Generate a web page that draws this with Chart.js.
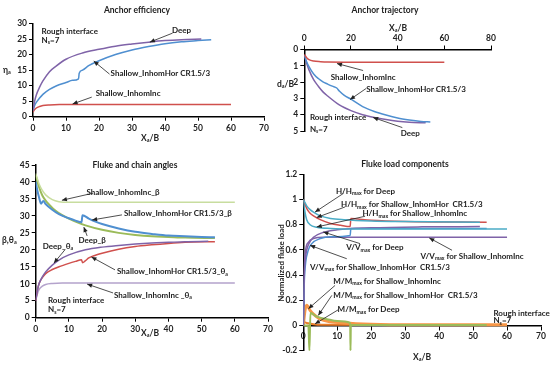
<!DOCTYPE html>
<html>
<head>
<meta charset="utf-8">
<script src="https://cdn.jsdelivr.net/npm/chart.js@4"></script>
<style>
  html, body { margin: 0; padding: 0; background: #fff; }
  #sheet { display: block; width: 550px; height: 365px; }
</style>
</head>
<body>
<canvas id="sheet" width="550" height="365"></canvas>
<script>
// ---- Anchor efficiency (x = Xa/B, y = eta_a)
const effDeep = [[0,2],[0.5,5],[1,7],[2,9.5],[3,11.5],[5,14.5],[7,16.3],[10,18.5],[15,20.5],[20,21.7],[25,22.7],[30,23.4],[35,24],[40,24.5],[45,24.8],[51,25]];
const effHor = [[0,2],[0.5,3.6],[1,4.6],[2,6],[3,7.2],[5,8.8],[7,9.9],[10,11],[12,11.7],[13.8,12.2],[14,14],[15,15],[17,16.5],[20,18],[25,20],[30,21.5],[35,22.6],[40,23.5],[45,24.1],[50,24.5],[54,24.8]];
const effInc = [[0,1.5],[0.5,2.3],[1,2.8],[2,3.3],[3,3.6],[5,3.8],[8,3.9],[15,3.9],[60,3.9]];

// ---- Anchor trajectory (x = Xa/B, y = da/B)
const trajInc = [[0,0.3],[1,0.5],[2,0.62],[4,0.71],[7,0.75],[10,0.77],[20,0.78],[60,0.78]];
const trajHor = [[0,0.35],[1,0.75],[2,1.05],[4,1.5],[6,1.78],[8,1.98],[10,2.12],[12,2.25],[13.9,2.36],[15,2.55],[17,2.8],[20,3.05],[25,3.5],[30,3.8],[35,4.02],[40,4.2],[45,4.32],[50,4.41],[54,4.45]];
const trajDeep = [[0,0.35],[1,0.85],[2,1.25],[4,1.85],[6,2.25],[8,2.6],[10,2.85],[15,3.4],[20,3.75],[25,4],[30,4.17],[35,4.3],[40,4.4],[45,4.46],[52,4.5]];

// ---- Fluke and chain angles (degrees)
const betaInc = [[0,42.5],[1,39.5],[2,37.5],[3,36.2],[5,34.8],[7,34.2],[10,34],[60,34]];
const betaHor = [[0,40],[0.5,37.5],[1,35.5],[1.6,33.6],[2.3,34.4],[3,33.5],[5,31.8],[7,30.5],[10,29.3],[12,28.6],[13.8,28.1],[14.1,30.2],[16,29.2],[18,28.3],[20,27.6],[25,26.3],[30,25.3],[35,24.7],[40,24.2],[45,24],[50,23.8],[54,23.7]];
const betaDeep = [[0,42],[1,38.5],[2,36],[3,34.5],[4,33.4],[6,31.5],[8,30.2],[10,29.2],[12,28.3],[15,27.2],[20,25.9],[25,25],[30,24.4],[35,24],[40,23.8],[45,23.6],[54,23.5]];
const thetaDeep = [[0,5],[0.5,8],[1,10],[2,12],[3,13.5],[5,15.5],[7,17],[10,18.5],[15,20],[20,20.8],[25,21.3],[30,21.7],[35,22],[40,22.2],[45,22.4],[52,22.5]];
const thetaHor = [[0,5],[0.5,8],[1,10],[2,11.8],[3,13],[5,14.2],[7,15],[10,16],[12,16.6],[13.8,17.1],[14.1,16.2],[15,16.8],[16,17.6],[18,18.4],[20,19],[25,20.2],[30,21],[35,21.5],[40,21.9],[45,22.2],[54,22.4]];
const thetaInc = [[0,5],[0.5,7],[1,8.3],[2,9.3],[3,9.8],[5,10.1],[8,10.2],[60,10.2]];

// ---- Fluke load components (normalized)
const hDeep = [[0,1],[1,0.95],[2,0.92],[3,0.9],[5,0.87],[8,0.85],[12,0.84],[20,0.83],[30,0.825],[52,0.82]];
const hHor = [[0,1],[1,0.93],[2,0.89],[3,0.87],[5,0.84],[8,0.81],[11,0.795],[13.8,0.785],[14,0.85],[16,0.845],[20,0.835],[30,0.825],[54,0.82]];
const hInc = [[0,1],[0.5,0.9],[1,0.84],[2,0.8],[4,0.78],[8,0.77],[15,0.765],[60,0.765]];
const vDeep = [[0,0],[0.3,0.4],[0.7,0.55],[1.5,0.64],[3,0.7],[6,0.74],[10,0.76],[20,0.775],[35,0.783],[52,0.785]];
const vHor = [[0,0],[0.3,0.35],[0.7,0.5],[1.5,0.6],[2.5,0.65],[5,0.69],[8,0.705],[13.8,0.715],[14,0.77],[20,0.77],[54,0.77]];
const vInc = [[0,0],[0.3,0.45],[0.7,0.6],[1.5,0.66],[3,0.69],[6,0.7],[60,0.7]];
const mInc = [[0,0],[0.5,0.12],[1,0.16],[2,0.12],[3,0.09],[5,0.05],[8,0.03],[12,0.02],[20,0.01],[30,0.005],[60,0.005]];
const mHor = [[0,0],[1.5,0],[1.8,-0.2],[2.1,0.1],[4,0.07],[7,0.05],[10,0.035],[13.8,0.02],[13.9,-0.2],[14,0.003],[54,0.003]];
const mDeep = [[0,0.03],[1,0.02],[3,0.01],[5,0.005],[52,0.003]];

const FONT = 'Lato, "Open Sans", sans-serif';
Chart.defaults.font.family = FONT;
Chart.defaults.font.size = 8.5;
Chart.defaults.font.weight = 'bold';
Chart.defaults.color = '#222';

const toXY = (pairs) => pairs.map(([x, y]) => ({x, y}));

function line(label, pairs, color, width) {
    return {
        label: label,
        data: toXY(pairs),
        borderColor: color,
        borderWidth: width || 1.5,
        pointRadius: 0,
        fill: false,
        tension: 0.4,
        cubicInterpolationMode: 'monotone'
    };
}

// text with subscripts written as X_{a} or H_{max}; a plain "_" stays an underscore
function richText(ctx, str, x, y, size, align) {
    const parts = [];
    const re = /_\{([^}]*)\}|((?:[^_]|_(?!\{))+)/g;
    let m;
    while ((m = re.exec(str)) !== null) {
        if (m[2] !== undefined) parts.push({t: m[2], sub: false});
        else parts.push({t: m[1], sub: true});
    }
    const main = 'bold ' + size + 'px ' + FONT;
    const small = 'bold ' + (size * 0.65).toFixed(1) + 'px ' + FONT;
    let w = 0;
    parts.forEach((p) => {
        ctx.font = p.sub ? small : main;
        p.w = ctx.measureText(p.t).width;
        w += p.w;
    });
    let cx = x;
    if (align === 'center') cx = x - w / 2;
    else if (align === 'right') cx = x - w;
    ctx.textBaseline = 'middle';
    ctx.textAlign = 'left';
    parts.forEach((p) => {
        ctx.font = p.sub ? small : main;
        ctx.fillText(p.t, cx, p.sub ? y + size * 0.3 : y);
        cx += p.w;
    });
}

function arrow(ctx, x1, y1, x2, y2) {
    ctx.strokeStyle = '#222';
    ctx.fillStyle = '#222';
    ctx.lineWidth = 0.8;
    ctx.beginPath();
    ctx.moveTo(x1, y1);
    ctx.lineTo(x2, y2);
    ctx.stroke();
    const a = Math.atan2(y2 - y1, x2 - x1);
    const L = 5, W = 2.2;
    ctx.beginPath();
    ctx.moveTo(x2, y2);
    ctx.lineTo(x2 - L * Math.cos(a) + W * Math.sin(a), y2 - L * Math.sin(a) - W * Math.cos(a));
    ctx.lineTo(x2 - L * Math.cos(a) - W * Math.sin(a), y2 - L * Math.sin(a) + W * Math.cos(a));
    ctx.closePath();
    ctx.fill();
}

// labels: {t, at:[x,y] (data) or px:[x,y] (panel pixels), size, align, rot}
// arrows: {from:[x,y], to:[x,y]} in data units
const decor = {
    id: 'decor',
    afterDatasetsDraw(chart, args, opts) {
        const ctx = chart.ctx;
        const xs = chart.scales.x, ys = chart.scales.y;
        ctx.save();
        (opts.arrows || []).forEach((a) => {
            arrow(ctx, xs.getPixelForValue(a.from[0]), ys.getPixelForValue(a.from[1]),
                xs.getPixelForValue(a.to[0]), ys.getPixelForValue(a.to[1]));
        });
        (opts.labels || []).forEach((l) => {
            const px = l.px ? l.px[0] : xs.getPixelForValue(l.at[0]);
            const py = l.px ? l.px[1] : ys.getPixelForValue(l.at[1]);
            ctx.save();
            ctx.fillStyle = '#222';
            if (l.rot) {
                ctx.translate(px, py);
                ctx.rotate(l.rot);
                richText(ctx, l.t, 0, 0, l.size || 8, l.align || 'left');
            } else {
                richText(ctx, l.t, px, py, l.size || 8, l.align || 'left');
            }
            ctx.restore();
        });
        ctx.restore();
    }
};

function axis(min, max, step, extra, fixedSize, horizontal) {
    const s = {
        type: 'linear',
        min: min,
        max: max,
        ticks: {stepSize: step, padding: 2, callback: (v) => String(Math.round(v * 10) / 10)},
        grid: {display: true, drawOnChartArea: false, drawTicks: true, tickLength: 4, color: '#000', lineWidth: 1},
        border: {display: true, color: '#000', width: 1.5}
    };
    if (fixedSize) {
        s.afterFit = (sc) => { if (horizontal) sc.height = fixedSize; else sc.width = fixedSize; };
    }
    return Object.assign(s, extra || {});
}

const sheet = document.getElementById('sheet').getContext('2d');
sheet.fillStyle = '#fff';
sheet.fillRect(0, 0, 550, 365);

// each panel is drawn by its own chart on a detached canvas, then copied onto the sheet
function panel(left, top, w, h, datasets, scales, padding, decorOpts) {
    const c = document.createElement('canvas');
    c.width = w;
    c.height = h;
    new Chart(c, {
        type: 'line',
        data: {datasets: datasets},
        options: {
            responsive: false,
            animation: false,
            devicePixelRatio: 1,
            layout: {padding: padding},
            scales: scales,
            plugins: {legend: {display: false}, tooltip: {enabled: false}, decor: decorOpts}
        },
        plugins: [decor]
    });
    sheet.drawImage(c, left, top);
}

const PURPLE = '#7f63a8', BLUE = '#4f8fd0', RED = '#d0504d', GREEN = '#9bbb59',
    LGREEN = '#c8dd9f', LPURPLE = '#b4a3cc', CYAN = '#4bacc6', ORANGE = '#f79646';

panel(0, 0, 275, 145, [
    line('Deep', effDeep, PURPLE),
    line('Shallow_InhomHor CR1.5/3', effHor, BLUE),
    line('Shallow_InhomInc', effInc, RED)
], {
    x: axis(0, 70, 10, {}, 28.3, true),
    y: axis(0, 30, 5, {}, 33, false)
}, {left: 0, right: 11, top: 23.5, bottom: 0}, {
    labels: [
        {t: 'Anchor efficiency', px: [137, 10], size: 8.5, align: 'center'},
        {t: 'X_{a}/B', px: [150, 138], size: 8.5, align: 'center'},
        {t: 'η_{a}', px: [3, 70], size: 8.5},
        {t: 'Rough interface', at: [2.6, 27.6]},
        {t: 'N_{s}=7', at: [2.6, 24.7]},
        {t: 'Deep', at: [45, 27.9], align: 'center'},
        {t: 'Shallow_InhomHor CR1.5/3', at: [23.5, 14]},
        {t: 'Shallow_InhomInc', at: [19, 7.6]}
    ],
    arrows: [
        {from: [42.3, 26.9], to: [35.4, 24.0]},
        {from: [23.2, 13.7], to: [18.4, 17.9]},
        {from: [17.8, 6.3], to: [12.0, 4.1]}
    ]
});

panel(275, 0, 275, 145, [
    line('Shallow_InhomInc', trajInc, RED),
    line('Shallow_InhomHor CR1.5/3', trajHor, BLUE),
    line('Deep', trajDeep, PURPLE)
], {
    x: axis(0, 80, 20, {position: 'top'}, 49.5, true),
    y: axis(0, 5, 1, {reverse: true}, 29.3, false)
}, {left: 0, right: 59, top: 0, bottom: 14}, {
    labels: [
        {t: 'Anchor trajectory', px: [110, 10], size: 8.5, align: 'center'},
        {t: 'X_{a}/B', px: [123, 28], size: 8.5, align: 'center'},
        {t: 'd_{a}/B', px: [2, 84], size: 8.5},
        {t: 'Shallow_InhomInc', at: [25.2, 1.72], align: 'center'},
        {t: 'Shallow_InhomHor CR1.5/3', at: [26.5, 2.45]},
        {t: 'Rough interface', at: [2.4, 4.17]},
        {t: 'N_{s}=7', at: [2.4, 4.9]},
        {t: 'Deep', at: [45.4, 5.15], align: 'center'}
    ],
    arrows: [
        {from: [25.2, 1.29], to: [14.0, 0.86]},
        {from: [26.5, 2.39], to: [19.6, 3.07]},
        {from: [42, 4.79], to: [29.5, 4.17]}
    ]
});

panel(0, 145, 275, 220, [
    line('Shallow_InhomInc_β', betaInc, LGREEN),
    line('Shallow_InhomHor CR1.5/3_β', betaHor, BLUE, 2),
    line('Deep_β', betaDeep, GREEN, 2),
    line('Deep_θa', thetaDeep, PURPLE),
    line('Shallow_InhomHor CR1.5/3_θa', thetaHor, RED),
    line('Shallow_InhomInc_θa', thetaInc, LPURPLE)
], {
    x: axis(0, 70, 10, {}, 47.3, true),
    y: axis(0, 45, 5, {}, 35.7, false)
}, {left: 0, right: 7, top: 20, bottom: 0}, {
    labels: [
        {t: 'Fluke and chain angles', px: [135, 20], size: 8.5, align: 'center'},
        {t: 'X_{a}/B', px: [150, 188], size: 8.5, align: 'center'},
        {t: 'β,θ_{a}', px: [2, 95], size: 8.5},
        {t: 'Shallow_InhomInc_β', at: [26.3, 37], align: 'center'},
        {t: 'Shallow_InhomHor CR1.5/3_β', at: [26.6, 30.6]},
        {t: 'Deep_β', at: [17, 22.9], align: 'center'},
        {t: 'Deep_θ_{a}', at: [6.7, 21.1], align: 'center'},
        {t: 'Shallow_InhomHor CR1.5/3_θ_{a}', at: [24.5, 13.5]},
        {t: 'Shallow_InhomInc _θ_{a}', at: [23.6, 6.7]},
        {t: 'Rough interface', at: [3.7, 5.2]},
        {t: 'N_{s}=7', at: [3.7, 2.3]}
    ],
    arrows: [
        {from: [17.3, 36.7], to: [7.9, 34.6]},
        {from: [26.0, 30.3], to: [17.0, 28.8]},
        {from: [15.5, 24.1], to: [14.5, 26.7]},
        {from: [8.8, 20.0], to: [5.5, 16.1]},
        {from: [23.9, 14.1], to: [16.8, 17.9]},
        {from: [23.3, 7.3], to: [15.5, 9.9]}
    ]
});

panel(275, 145, 275, 220, [
    line('H/Hmax for Deep', hDeep, CYAN),
    line('H/Hmax for Shallow_InhomHor CR1.5/3', hHor, RED),
    line('H/Hmax for Shallow_InhomInc', hInc, CYAN),
    line('V/Vmax for Deep', vDeep, PURPLE),
    line('V/Vmax for Shallow_InhomHor CR1.5/3', vHor, BLUE),
    line('V/Vmax for Shallow_InhomInc', vInc, PURPLE),
    line('M/Mmax for Shallow_InhomHor CR1.5/3', mHor, GREEN, 2),
    line('M/Mmax for Shallow_InhomInc', mInc, ORANGE, 3),
    line('M/Mmax for Deep', mDeep, '#e87d2a', 2)
], {
    x: axis(0, 70, 10, {position: {y: 0}}),
    y: axis(-0.2, 1.2, 0.2, {}, 28.3, false)
}, {left: 0, right: 9, top: 29.3, bottom: 14.3}, {
    labels: [
        {t: 'Fluke load components', px: [130, 19], size: 8.5, align: 'center'},
        {t: 'X_{a}/B', px: [147, 212], size: 8.5, align: 'center'},
        {t: 'Normalized fluke load', px: [6, 118], size: 8, align: 'center', rot: -Math.PI / 2},
        {t: 'H/H_{max} for Deep', at: [18.3, 1.066], align: 'center'},
        {t: 'H/H_{max} for Shallow_InhomHor  CR1.5/3', at: [11.1, 0.96]},
        {t: 'H/H_{max} for Shallow_InhomInc', at: [17.4, 0.889]},
        {t: 'V/V_{max} for Deep', at: [21.1, 0.618], align: 'center'},
        {t: 'V/V_{max} for Shallow_InhomInc', at: [49.7, 0.549], align: 'center'},
        {t: 'V/V_{max} for Shallow_InhomHor  CR1.5/3', at: [2.0, 0.464]},
        {t: 'M/M_{max} for Shallow_InhomInc', at: [8.85, 0.35]},
        {t: 'M/M_{max} for Shallow_InhomHor  CR1.5/3', at: [8.85, 0.239]},
        {t: 'M/M_{max} for Deep', at: [10.1, 0.125]},
        {t: 'Rough interface', at: [56, 0.098]},
        {t: 'N_{s}=7', at: [56, 0.04]}
    ],
    arrows: [
        {from: [11.8, 1.048], to: [3.45, 0.9]},
        {from: [12.3, 0.941], to: [3.95, 0.857]},
        {from: [18.2, 0.867], to: [3.95, 0.782]},
        {from: [16.7, 0.65], to: [5.9, 0.742]},
        {from: [43.8, 0.597], to: [37.1, 0.695]},
        {from: [12.8, 0.53], to: [2.0, 0.636]},
        {from: [9.35, 0.318], to: [1.5, 0.133]},
        {from: [8.4, 0.239], to: [4.4, 0.08]},
        {from: [10.3, 0.125], to: [3.45, 0.013]}
    ]
});
</script>
</body>
</html>
